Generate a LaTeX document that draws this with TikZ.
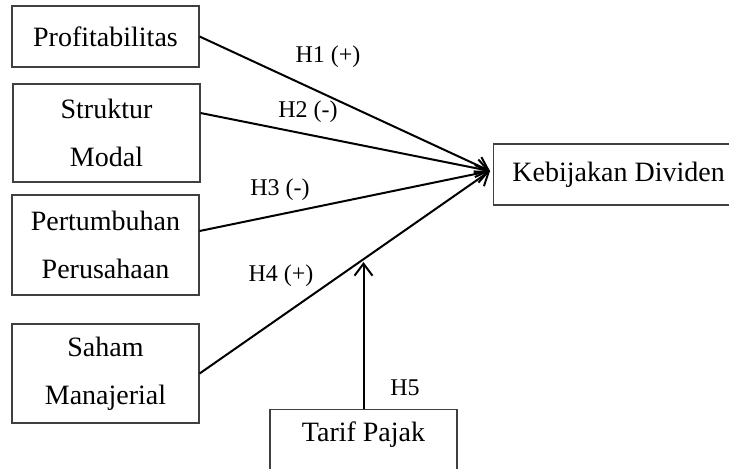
\documentclass[tikz,border=0pt]{standalone}
\usepackage{fontspec}
\setmainfont{Liberation Serif}
\usetikzlibrary{arrows.meta}

\tikzset{
  varbox/.style={draw=black!75, line width=0.6pt, align=center, inner sep=0pt,
    minimum width=93.5pt, font=\fontsize{14}{24}\selectfont},
  hyp/.style={-{Straight Barb[length=6pt,width=9pt]}, line width=1pt},
  hlabel/.style={font=\fontsize{12}{14}\selectfont, inner sep=0pt}
}

\begin{document}
\begin{tikzpicture}[x=0.5pt, y=-0.5pt]
\clip (0,0) rectangle (729,468);

\node[varbox, minimum height=30.5pt] (profit) at (105.5,36.5) {Profitabilitas};
\node[varbox, minimum height=49pt] (struktur) at (106.5,133) {Struktur\\Modal};
\node[varbox, minimum height=50pt] (tumbuh) at (105.5,245) {Pertumbuhan\\Perusahaan};
\node[varbox, minimum height=49.5pt] (saham) at (105.5,373.5) {Saham\\Manajerial};
\node[varbox, minimum width=125pt, minimum height=30.5pt, anchor=west] (dividen) at (493,174.5) {Kebijakan Dividen};
\node[varbox, anchor=north, text height=16pt, text depth=24pt] (pajak) at (363.5,409) {Tarif Pajak};

\coordinate (meet) at ([xshift=-1.5pt, yshift=1.75pt]dividen.west);
\coordinate (h5tip) at (363.5,262);

\draw[hyp] (profit.east) -- (meet);
\draw[hyp] ([yshift=10pt]struktur.east) -- (meet);
\draw[hyp] ([yshift=7pt]tumbuh.east) -- (meet);
\draw[hyp] (saham.east) -- (meet);
\draw[hyp] (pajak.north) -- (h5tip);

\node[hlabel] (h1) at (328,57) {H1 (+)};
\node[hlabel] (h2) at (308,112) {H2 (-)};
\node[hlabel] (h3) at (280,190) {H3 (-)};
\node[hlabel] (h4) at (281,276) {H4 (+)};
\node[hlabel] (h5) at (405,388) {H5};
\end{tikzpicture}
\end{document}
